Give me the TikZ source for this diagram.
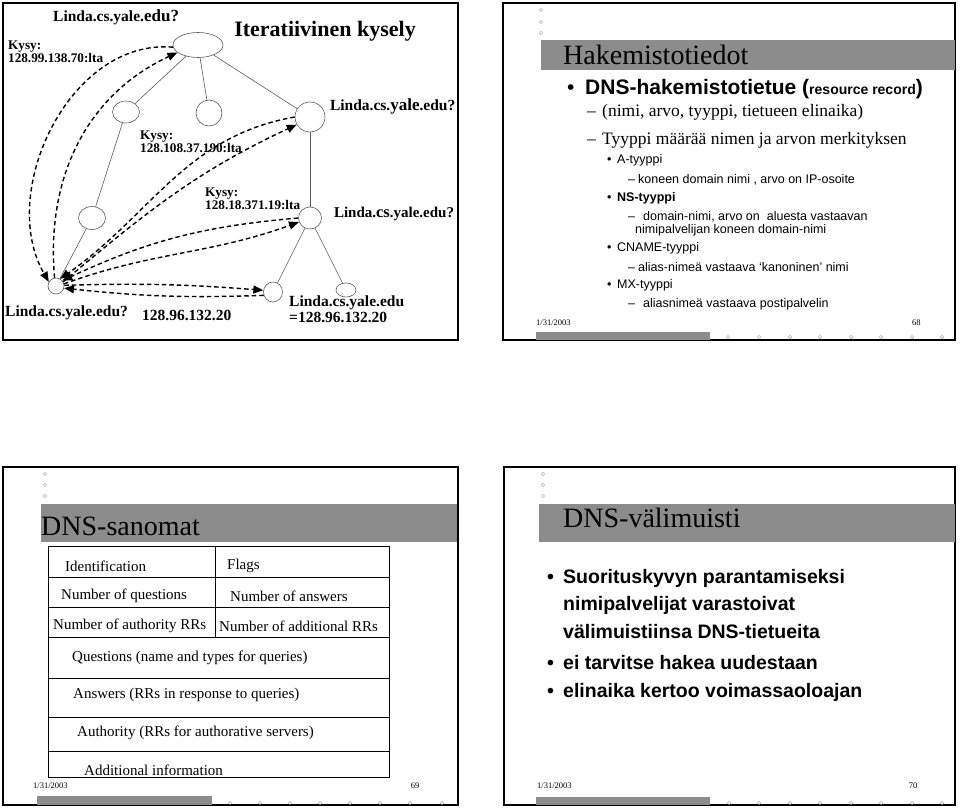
\documentclass[tikz,border=0pt]{standalone}
\usepackage{fontspec}
\setmainfont{Liberation Serif}
\setsansfont{Liberation Sans}
\usetikzlibrary{shapes.geometric, positioning, arrows.meta}
\definecolor{barcol}{RGB}{140,140,140}
\definecolor{linecol}{RGB}{90,90,90}
\definecolor{dotcol}{RGB}{150,150,150}

\begin{document}
\begin{tikzpicture}[
    x=1pt, y=-1pt,
    slideframe/.style={draw, line width=1.5pt},
    dot/.style={draw=dotcol, line width=0.4pt},
    server/.style={ellipse, draw=linecol, line width=0.6pt, inner sep=0pt},
    treeline/.style={draw=linecol, line width=0.6pt},
    msg/.style={line width=1.4pt, dash pattern=on 4.5pt off 3pt,
        -{Triangle[length=10pt,width=8pt]}},
    lbl/.style={font=\bfseries\fontsize{15.5}{16}\selectfont, inner sep=0pt},
    ask/.style={font=\bfseries\fontsize{13.2}{12}\selectfont, inner sep=0pt,
        align=left, anchor=north west},
    slidetitle/.style={font=\fontsize{28}{28}\selectfont, inner sep=0pt, anchor=west},
    footer/.style={font=\fontsize{8.5}{9}\selectfont, inner sep=0pt},
    bigitem/.style={font=\sffamily\fontsize{21}{21}\selectfont, inner sep=0pt, anchor=west},
    subitem/.style={font=\fontsize{17.5}{18}\selectfont, inner sep=0pt, anchor=west},
    smallitem/.style={font=\sffamily\fontsize{12.5}{13}\selectfont, inner sep=0pt, anchor=west},
    cell/.style={font=\fontsize{15}{15}\selectfont, inner sep=0pt, anchor=west},
    cacheitem/.style={font=\sffamily\bfseries\fontsize{19.5}{20}\selectfont, inner sep=0pt, anchor=west}
]
\useasboundingbox (0,0) rectangle (960,808);

% Slide 1: iteratiivinen kysely
\draw[slideframe] (3,3) rectangle (458,340);
\node[font=\bfseries\fontsize{22}{22}\selectfont, inner sep=0pt] (itertitle) at (325,31) {Iteratiivinen kysely};

% Nimipalvelimet
\node[server, minimum width=50pt, minimum height=25pt] (root) at (198,45) {};
\node[server, minimum width=27pt, minimum height=22pt] (edu) at (126,112) {};
\node[server, minimum width=26pt, minimum height=26pt] (other) at (209,113) {};
\node[server, minimum width=30pt, minimum height=30pt] (yale) at (310,117) {};
\node[server, minimum width=27pt, minimum height=23pt] (eduleaf) at (92,218) {};
\node[server, minimum width=16pt, minimum height=16pt] (local) at (56,286) {};
\node[server, minimum width=23pt, minimum height=22pt] (cs) at (310,218) {};
\node[server, minimum width=19pt, minimum height=20pt] (host) at (273,292) {};
\node[server, minimum width=20pt, minimum height=14pt] (hostb) at (346,290) {};

\draw[treeline] (root) -- (edu);
\draw[treeline] (root) -- (other);
\draw[treeline] (root) -- (yale);
\draw[treeline] (edu) -- (eduleaf);
\draw[treeline] (eduleaf) -- (local);
\draw[treeline] (yale) -- (cs);
\draw[treeline] (cs) -- (host);
\draw[treeline] (cs) -- (hostb);

% Kyselyt ja vastaukset
\draw[msg] (local.100) to[out=95,in=205] (root.200);
\draw[msg] (root.185) to[out=175,in=120] (local.150);
\draw[msg] (local.30) to[out=40,in=205] (yale.210);
\draw[msg] (yale.west) to[out=190,in=35] (local.60);
\draw[msg] (local.15) to[out=20,in=200] (cs.200);
\draw[msg] (cs.west) to[out=185,in=25] (local.40);
\draw[msg] (local.5) to[bend left=3] (host.170);
\draw[msg] (host.200) to[bend left=4] (local.-15);

% Nimet
\node[lbl, anchor=west] (rootlbl) at (53,17) {Linda.cs.yale.{\fontsize{17}{17}\selectfont edu?}};
\node[lbl, right=9pt of yale.north east] (yalelbl) {Linda.cs.{\fontsize{17}{17}\selectfont yale}.edu?};
\node[lbl, font=\bfseries\fontsize{15}{16}\selectfont, right=12pt of cs, yshift=4pt] (cslbl) {Linda.{\fontsize{16.5}{17}\selectfont cs}.yale.edu?};
\node[lbl, anchor=north west, align=left] (hostlbl) at (289,296) {Linda.cs.yale.edu\\=128.96.132.20};
\node[lbl, anchor=west] (locallbl) at (5,313) {Linda.cs.yale.edu?};
\node[lbl, anchor=west] (answer) at (142,315) {128.96.132.20};
\node[ask] (ask1) at (8,41) {Kysy:\\128.99.138.70:lta};
\node[ask] (ask2) at (140,131) {Kysy:\\128.108.37.190:lta};
\node[ask] (ask3) at (205,188) {Kysy:\\128.18.371.19:lta};

% Slide 2: hakemistotiedot
\draw[slideframe] (503,3) rectangle (955,340);
\foreach \yy in {10,22,33} \draw[dot] (541,\yy) circle (1.7pt);
\fill[barcol] (541,40) rectangle (955,70);
\node[slidetitle] (hakem) at (563,55) {Hakemistotiedot};
\node[bigitem] (rr) at (567,89) {\makebox[18pt][l]{•}\textbf{DNS-hakemistotietue (}{\bfseries\fontsize{14}{14}\selectfont resource record}\textbf{)}};
\node[subitem] (tuple) at (587,112) {\makebox[15pt][l]{–}(nimi, arvo, tyyppi, tietueen elinaika)};
\node[subitem] (tyyppi) at (587,140) {\makebox[15pt][l]{–}Tyyppi määrää nimen ja arvon merkityksen};
\node[smallitem] (atype) at (607,160) {\makebox[10pt][l]{•}A-tyyppi};
\node[smallitem] (adesc) at (628,180) {\makebox[10pt][l]{–}koneen domain nimi , arvo on IP-osoite};
\node[smallitem] (nstype) at (607,198) {\makebox[10pt][l]{•}\textbf{NS-tyyppi}};
\node[smallitem] (nsdesc) at (628,217) {\makebox[15pt][l]{–}domain-nimi, arvo on \ aluesta vastaavan};
\node[smallitem] (nsdesc2) at (635,230) {nimipalvelijan koneen domain-nimi};
\node[smallitem] (cntype) at (607,248) {\makebox[10pt][l]{•}CNAME-tyyppi};
\node[smallitem] (cndesc) at (628,267) {\makebox[10pt][l]{–}alias-nimeä vastaava ‘kanoninen’ nimi};
\node[smallitem] (mxtype) at (607,285) {\makebox[10pt][l]{•}MX-tyyppi};
\node[smallitem] (mxdesc) at (628,304) {\makebox[15pt][l]{–}aliasnimeä vastaava postipalvelin};
\node[footer, anchor=west] (date68) at (536,323) {1/31/2003};
\node[footer, anchor=west] (page68) at (912,323) {68};
\fill[barcol] (536,332) rectangle (710,340);
\foreach \xx in {728,759,790,820,851,881,912,942} \draw[dot] (\xx,337) circle (1.7pt);

% Slide 3: DNS-sanomat
\draw[slideframe] (3,467) rectangle (458,805);
\foreach \yy in {474,485,496} \draw[dot] (45,\yy) circle (1.7pt);
\fill[barcol] (41,504) rectangle (457,542);
\node[slidetitle] (sanomat) at (41,526) {DNS-sanomat};
\draw[line width=0.8pt] (48,546) rectangle (389,777);
\foreach \yy in {577,607,637,678,717,751} \draw[line width=0.8pt] (48,\yy) -- (389,\yy);
\draw[line width=0.8pt] (215,546) -- (215,637);
\node[cell] (ident) at (65,566) {Identification};
\node[cell] (flags) at (227,566) {Flags};
\node[cell] (nquest) at (61,596) {Number of questions};
\node[cell] (nansw) at (230,596) {Number of answers};
\node[cell] (nauth) at (53,626) {Number of authority RRs};
\node[cell] (naddl) at (219,626) {Number of additional RRs};
\node[cell] (quest) at (72,658) {Questions (name and types for queries)};
\node[cell] (answ) at (73,695) {Answers (RRs in response to queries)};
\node[cell] (auth) at (77,733) {Authority (RRs for authorative servers)};
\node[cell] (addl) at (84,770) {Additional information};
\node[footer, anchor=west] (date69) at (33,786) {1/31/2003};
\node[footer] (page69) at (415,786) {69};
\fill[barcol] (37,796) rectangle (212,805);
\foreach \xx in {230,260,290,320,350,380,410,442} \draw[dot] (\xx,803) circle (1.7pt);

% Slide 4: DNS-valimuisti
\draw[slideframe] (504,467) rectangle (955,805);
\foreach \yy in {474,485,496} \draw[dot] (543,\yy) circle (1.7pt);
\fill[barcol] (539,504) rectangle (955,542);
\node[slidetitle] (valimuisti) at (563,518) {DNS-välimuisti};
\node[cacheitem] (perf1) at (547,578) {\makebox[16pt][l]{•}Suorituskyvyn parantamiseksi};
\node[cacheitem] (perf2) at (563,605) {nimipalvelijat varastoivat};
\node[cacheitem] (perf3) at (563,632) {välimuistiinsa DNS-tietueita};
\node[cacheitem] (again) at (547,663) {\makebox[16pt][l]{•}ei tarvitse hakea uudestaan};
\node[cacheitem] (ttl) at (547,692) {\makebox[16pt][l]{•}elinaika kertoo voimassaoloajan};
\node[footer, anchor=west] (date70) at (537,786) {1/31/2003};
\node[footer] (page70) at (913,786) {70};
\fill[barcol] (536,797) rectangle (710,805);
\foreach \xx in {729,759,790,820,851,881,912,942} \draw[dot] (\xx,803) circle (1.7pt);
\end{tikzpicture}
\end{document}
